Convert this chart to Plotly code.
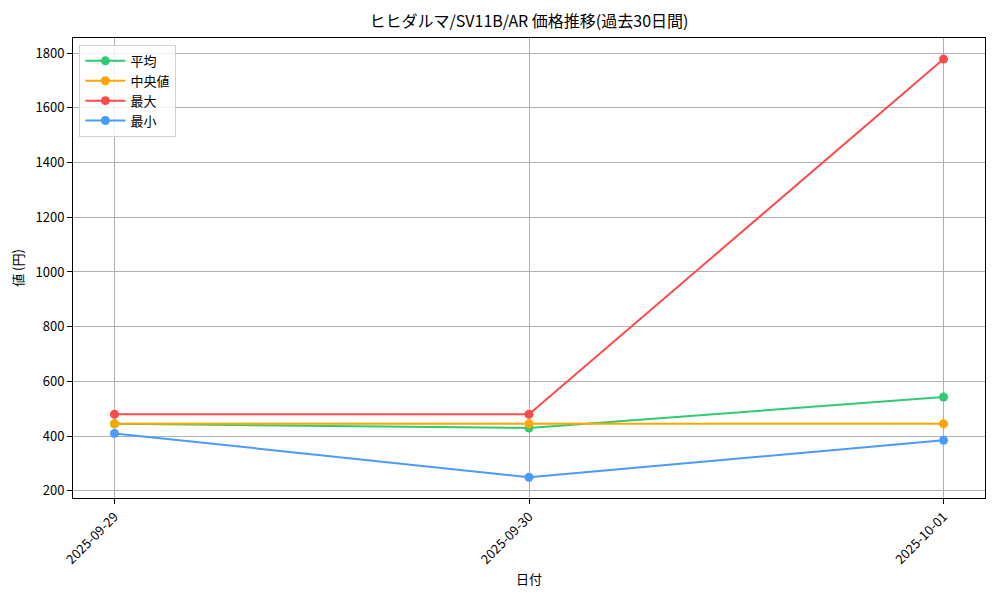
import plotly.graph_objects as go

# 日付と価格データ
dates = ["2025-09-29", "2025-09-30", "2025-10-01"]
mean_vals = [445, 430, 543]
median_vals = [445, 445, 445]
max_vals = [480, 480, 1778]
min_vals = [410, 250, 385]

series = [
    ("平均", mean_vals, "#2ecc71"),
    ("中央値", median_vals, "#ffa500"),
    ("最大", max_vals, "#ff4b4b"),
    ("最小", min_vals, "#4a9bff"),
]

font = "Noto Sans CJK JP"

fig = go.Figure()
for name, vals, color in series:
    fig.add_trace(go.Scatter(
        x=dates, y=vals, mode="lines+markers", name=name,
        line=dict(color=color, width=2),
        marker=dict(color=color, size=9),
    ))

axis_style = dict(
    showline=True, mirror=True, linecolor="black", linewidth=1,
    ticks="outside", ticklen=5, tickcolor="black",
    showgrid=True, gridcolor="#b0b0b0", gridwidth=1,
    zeroline=False, tickfont=dict(size=13, color="black"),
    automargin=False,
)

# ページの余白(8px)を考慮したマージン
fig.update_layout(
    width=1000, height=600,
    paper_bgcolor="white", plot_bgcolor="white",
    font=dict(family=font, color="black", size=13),
    title=dict(text="ヒヒダルマ/SV11B/AR 価格推移(過去30日間)", xref="paper", x=0.5, xanchor="center",
               y=0.977, yanchor="middle", font=dict(size=16)),
    margin=dict(l=65, r=23, t=30, b=110),
    xaxis=dict(type="category", range=[-0.1, 2.1], tickangle=-45,
               title=dict(text="日付", font=dict(size=13), standoff=8), **axis_style),
    yaxis=dict(range=[174, 1855], tickvals=[200, 400, 600, 800, 1000, 1200, 1400, 1600, 1800],
               title=dict(text="値 (円)", font=dict(size=13), standoff=10), **axis_style),
    legend=dict(x=0.007, y=0.985, xanchor="left", yanchor="top",
                bgcolor="rgba(255,255,255,0.8)", bordercolor="#d0d0d0", borderwidth=1,
                font=dict(size=13), tracegroupgap=0, itemwidth=40),
    showlegend=True,
)

fig.write_html("out.html")
